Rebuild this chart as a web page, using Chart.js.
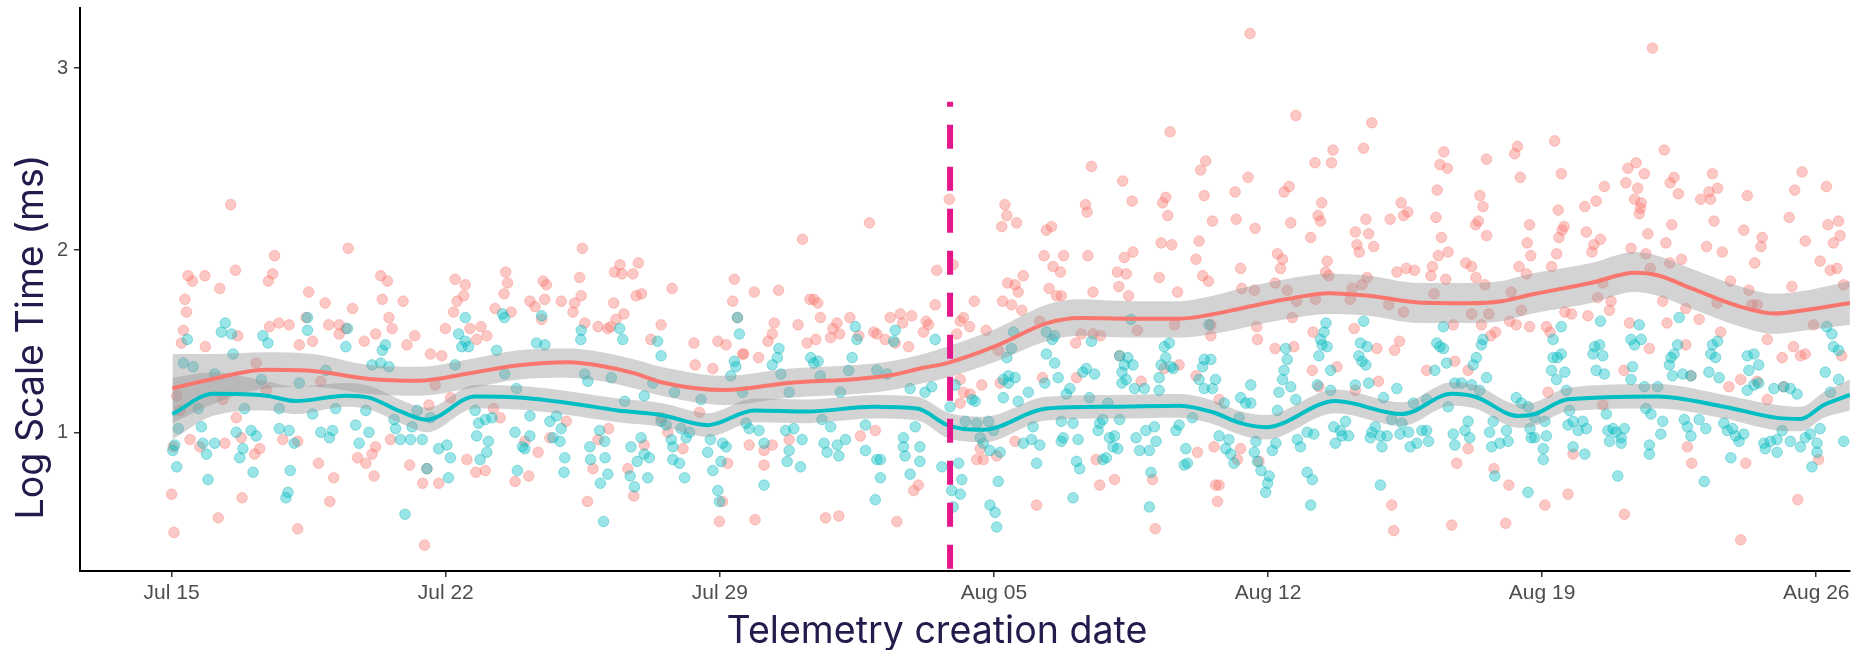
<!DOCTYPE html>
<html>
<head>
<meta charset="utf-8">
<script src="https://cdn.jsdelivr.net/npm/chart.js@4.4.1/dist/chart.umd.min.js"></script>
<style>
  html, body { margin: 0; padding: 0; background: #fff; }
  canvas { display: block; }
</style>
</head>
<body>
<canvas id="telemetryChart" width="1856" height="650"></canvas>
<script>
// ======= data (days since Jul 15, log scale time) =======
const xTickDays = [0, 7, 14, 21, 28, 35, 42];
const xTickLabels = ["Jul 15", "Jul 22", "Jul 29", "Aug 05", "Aug 12", "Aug 19", "Aug 26"];
const yTicks = [1, 2, 3];

const xTitle = "Telemetry creation date";
const yTitle = "Log Scale Time (ms)";

// release marker (dashed line)
const releaseDay = 19.88;
const releaseTop = 2.815;

// red group points [day, value]
const redPts = [
  [1.51,2.25],[2.63,1.97],[2.58,1.87],[2.47,1.83],[1.63,1.89],[0.42,1.86],[0.53,1.83],[0.85,1.86],[1.23,1.79],
  [0.34,1.73],[0.38,1.66],[0.30,1.56],[0.25,1.49],[0.86,1.47],[4.51,2.01],[3.50,1.77],[3.92,1.71],[4.62,1.68],
  [4.01,1.59],[2.74,1.60],[2.50,1.58],[3.00,1.59],[3.43,1.63],[4.28,1.59],[4.45,1.57],[4.28,1.54],[1.69,1.53],
  [4.92,1.50],[3.26,1.48],[3.60,1.50],[5.21,1.54],[2.16,1.38],[3.81,1.28],[2.42,1.23],[1.31,1.18],[1.65,1.08],
  [1.78,0.97],[0.47,0.96],[0.72,0.92],[1.36,0.94],[2.25,0.91],[2.12,0.88],[2.84,0.96],[0.04,0.92],[0.00,0.66],
  [0.06,0.45],[1.19,0.53],[1.80,0.64],[3.22,0.47],[3.75,0.83],[4.14,0.75],[4.04,0.62],[4.75,0.86],[4.96,0.83],
  [5.17,0.76],[0.13,1.20],[0.21,1.12],[3.22,0.95],
  [5.34,1.86],[5.51,1.83],[5.38,1.73],[5.91,1.72],[5.55,1.63],[5.63,1.57],[6.21,1.53],[6.01,1.48],[6.61,1.43],
  [6.90,1.42],[6.99,1.57],[7.24,1.84],[7.50,1.81],[7.46,1.75],[7.29,1.72],[7.20,1.66],[7.62,1.57],[7.90,1.58],
  [7.79,1.51],[8.05,1.53],[8.26,1.68],[8.53,1.88],[8.58,1.82],[8.49,1.76],[8.67,1.66],[9.15,1.72],[9.28,1.69],
  [9.45,1.62],[9.49,1.83],[9.57,1.81],[9.53,1.73],[9.95,1.72],[10.42,1.85],[10.49,2.01],[10.46,1.75],[10.29,1.71],
  [10.25,1.66],[10.55,1.60],[10.89,1.58],[11.14,1.57],[11.29,1.71],[11.31,1.88],[11.45,1.92],[11.50,1.87],
  [11.78,1.87],[11.92,1.93],[11.86,1.75],[12.00,1.76],[11.55,1.65],[11.35,1.62],[11.21,1.58],[12.50,1.59],
  [12.24,1.51],[5.21,0.92],[5.12,0.88],[5.59,0.96],[6.08,0.82],[6.41,0.72],[6.52,0.80],[6.82,0.72],[6.46,0.38],
  [7.54,0.85],[7.77,0.78],[8.01,0.79],[8.22,1.13],[8.39,1.08],[8.77,0.73],[9.12,0.76],[9.36,0.89],[9.02,0.95],
  [9.66,0.97],[10.08,1.06],[10.62,0.62],[10.76,0.80],[10.89,0.96],[11.16,1.02],[11.65,0.80],[11.80,0.65],
  [12.07,0.93],[6.57,1.15],[7.12,1.19],[6.73,1.26],
  [19.86,2.28],[17.82,2.15],[16.11,2.06],[12.78,1.79],[14.37,1.84],[14.33,1.72],[14.88,1.77],[15.50,1.78],
  [16.30,1.73],[16.40,1.73],[16.50,1.71],[19.54,1.89],[19.50,1.70],[13.34,1.49],[13.95,1.50],[14.16,1.48],
  [14.45,1.63],[14.61,1.43],[14.99,1.41],[15.23,1.50],[15.34,1.54],[15.39,1.60],[16.00,1.59],[16.45,1.51],
  [16.23,1.49],[16.57,1.63],[16.89,1.57],[16.99,1.60],[17.06,1.54],[16.83,1.52],[17.32,1.63],[17.55,1.53],
  [17.93,1.55],[18.01,1.54],[18.35,1.63],[18.61,1.65],[18.67,1.60],[18.90,1.64],[18.22,1.51],[18.48,1.49],
  [18.82,1.47],[19.20,1.55],[19.33,1.59],[19.27,1.61],[13.37,1.37],[13.82,1.35],[14.58,1.43],[19.96,1.92],
  [12.50,1.08],[12.67,1.00],[13.06,0.91],[14.20,0.83],[14.07,0.62],[13.99,0.51],[14.75,0.93],[15.13,0.90],
  [15.34,0.93],[15.13,0.82],[14.90,0.52],[15.77,0.96],[16.70,0.53],[17.04,0.54],[17.59,0.98],[17.97,1.01],
  [18.52,0.51],[18.95,0.68],[19.07,0.71],[13.48,1.11],
  [23.49,2.46],[25.50,2.65],[26.41,2.49],[26.28,2.44],[24.29,2.38],[24.53,2.27],[25.39,2.29],[25.31,2.26],
  [25.44,2.19],[26.37,2.30],[27.16,2.32],[27.19,2.17],[26.58,2.16],[23.34,2.25],[23.38,2.21],[21.28,2.25],
  [21.33,2.19],[21.58,2.15],[21.20,2.13],[22.34,2.11],[22.47,2.13],[25.27,2.04],[25.54,2.03],[26.24,2.05],
  [24.55,1.99],[24.33,1.96],[23.40,1.97],[22.28,1.97],[22.78,1.97],[22.51,1.91],[22.70,1.88],[21.75,1.86],
  [21.35,1.82],[21.54,1.81],[21.62,1.77],[26.16,1.95],[26.33,1.86],[26.48,1.83],[27.30,1.90],[27.33,1.79],
  [24.15,1.88],[24.38,1.87],[24.19,1.80],[25.22,1.85],[25.69,1.77],[23.53,1.77],[22.60,1.75],[22.72,1.75],
  [22.41,1.79],[24.44,1.75],[20.50,1.72],[21.22,1.72],[21.45,1.70],[21.71,1.67],[20.22,1.63],[20.14,1.61],
  [20.38,1.58],[20.05,1.54],[20.80,1.56],[22.17,1.61],[26.54,1.59],[25.61,1.59],[26.54,1.53],[24.66,1.56],
  [23.23,1.54],[23.53,1.54],[23.72,1.53],[23.09,1.49],[21.11,1.45],[24.21,1.42],[25.35,1.35],[25.73,1.37],
  [23.11,1.30],[22.24,1.30],[21.16,1.27],[20.69,1.26],[20.14,1.29],[20.22,1.22],[20.39,1.21],[20.14,1.16],
  [24.76,1.28],[26.16,1.31],[26.75,1.18],[20.65,0.91],[20.56,0.85],[20.73,0.85],[21.07,0.87],[21.54,0.95],
  [22.09,0.60],[23.61,0.85],[23.70,0.71],[24.08,0.74],[25.05,0.74],[25.12,0.47],[26.20,0.89],[26.62,0.92],
  [26.66,0.71],[26.75,0.71],[26.71,0.62],[27.22,0.85],[27.30,0.91],
  [27.54,3.19],[28.71,2.74],[30.65,2.70],[30.44,2.56],[29.66,2.55],[29.20,2.48],[29.62,2.48],[27.49,2.40],
  [28.41,2.32],[28.54,2.35],[29.37,2.26],[29.28,2.19],[29.34,2.16],[28.58,2.15],[27.67,2.12],[29.09,2.07],
  [30.23,2.10],[30.57,2.09],[30.50,2.17],[30.27,2.03],[30.33,1.99],[30.70,2.02],[31.12,2.17],[31.40,2.26],
  [31.57,2.21],[31.46,2.19],[32.29,2.18],[32.32,2.33],[32.49,2.54],[32.39,2.47],[32.58,2.45],[32.43,2.07],
  [32.60,1.99],[32.35,1.97],[33.58,2.50],[33.41,2.30],[33.49,2.24],[33.30,2.14],[33.37,2.16],[33.58,2.08],
  [34.30,2.53],[34.37,2.57],[34.44,2.40],[34.68,2.14],[34.62,2.04],[34.71,1.97],[34.41,1.91],[34.60,1.87],
  [28.24,1.98],[28.37,1.95],[28.32,1.90],[28.18,1.82],[27.65,1.78],[29.51,1.94],[29.47,1.88],[29.55,1.86],
  [30.53,1.85],[30.40,1.81],[31.29,1.88],[31.53,1.90],[31.74,1.89],[32.16,1.86],[32.20,1.91],[32.54,1.84],
  [33.05,1.93],[33.20,1.91],[33.31,1.85],[33.54,1.81],[28.49,1.78],[30.15,1.79],[28.73,1.72],[29.21,1.73],
  [30.10,1.73],[31.08,1.70],[31.46,1.66],[32.24,1.76],[33.20,1.65],[33.64,1.65],[34.21,1.77],[34.47,1.67],
  [34.68,1.58],[27.71,1.58],[27.73,1.51],[28.62,1.63],[29.15,1.55],[30.20,1.57],[30.78,1.46],[31.23,1.45],
  [31.36,1.50],[28.18,1.46],[28.66,1.47],[32.73,1.59],[33.45,1.59],[33.69,1.53],[33.81,1.55],[34.17,1.61],
  [34.34,1.59],[29.13,1.34],[29.76,1.36],[30.82,1.28],[32.05,1.34],[32.77,1.39],[33.11,1.34],[27.77,0.84],
  [31.16,0.60],[31.21,0.46],[32.82,0.83],[32.69,0.49],[33.11,0.91],[33.77,0.80],[34.15,0.71],[34.07,0.50],
  [30.23,1.23],[29.30,1.25],
  [37.82,3.11],[35.32,2.60],[38.12,2.55],[35.49,2.42],[37.19,2.45],[37.40,2.48],[37.61,2.42],[38.27,2.37],
  [38.37,2.40],[37.14,2.37],[37.44,2.34],[36.59,2.35],[38.48,2.31],[39.35,2.42],[39.48,2.34],[39.26,2.32],
  [39.05,2.28],[39.30,2.28],[40.24,2.30],[41.45,2.33],[41.64,2.43],[42.26,2.35],[37.36,2.28],[37.53,2.26],
  [37.51,2.23],[37.48,2.20],[36.38,2.27],[36.09,2.24],[35.41,2.22],[39.39,2.16],[38.31,2.14],[35.56,2.13],
  [35.51,2.11],[37.70,2.09],[36.13,2.10],[36.49,2.06],[36.32,2.03],[36.27,1.99],[35.43,2.07],[35.37,1.98],
  [37.27,2.01],[37.65,1.98],[38.16,2.04],[39.20,2.02],[39.60,1.99],[40.15,2.11],[40.62,2.07],[40.59,2.02],
  [41.31,2.18],[41.72,2.05],[42.30,2.14],[42.57,2.16],[42.61,2.08],[42.44,2.04],[40.43,1.93],[38.26,1.93],
  [38.56,1.95],[35.24,1.91],[36.55,1.82],[37.76,1.90],[39.81,1.83],[42.10,1.94],[42.36,1.89],[42.53,1.90],
  [41.38,1.80],[42.70,1.81],[36.42,1.74],[36.76,1.72],[38.08,1.72],[38.67,1.68],[39.47,1.71],[40.36,1.70],
  [40.49,1.70],[40.28,1.78],[36.72,1.67],[35.58,1.66],[35.75,1.65],[36.17,1.64],[35.11,1.58],[35.20,1.55],
  [37.23,1.60],[38.19,1.60],[39.01,1.62],[39.56,1.55],[40.75,1.51],[41.93,1.59],[41.13,1.41],[41.42,1.47],
  [41.60,1.42],[41.72,1.43],[42.65,1.42],[37.74,1.46],[38.67,1.48],[37.09,1.34],[38.80,1.31],[40.07,1.29],
  [39.77,1.25],[40.49,1.28],[41.17,1.25],[40.75,1.18],[35.15,1.22],[36.55,1.15],[38.71,0.92],[38.82,0.83],
  [40.20,0.83],[35.79,0.88],[35.66,0.66],[35.07,0.60],[37.10,0.55],[40.07,0.41],[41.53,0.63],[42.06,0.85]
];

// teal group points [day, value]
const tealPts = [
  [1.37,1.60],[0.40,1.51],[1.27,1.55],[1.53,1.54],[1.57,1.43],[2.33,1.53],[2.46,1.49],[3.47,1.63],[3.47,1.56],
  [4.45,1.47],[4.49,1.57],[0.30,1.38],[0.55,1.36],[1.10,1.32],[2.29,1.29],[3.26,1.27],[3.94,1.34],[0.17,1.02],
  [0.08,0.93],[0.03,0.90],[0.13,0.81],[0.68,1.13],[0.76,1.03],[0.80,0.94],[0.89,0.88],[1.10,0.94],[0.93,0.74],
  [1.65,1.00],[1.82,0.91],[1.74,0.86],[2.03,1.01],[2.16,0.98],[2.08,0.78],[2.75,1.02],[3.00,1.01],[3.13,0.94],
  [3.03,0.79],[2.97,0.67],[2.92,0.64],[3.81,1.00],[4.03,0.97],[4.11,1.01],[3.60,1.10],[4.70,1.04],[4.79,0.94],
  [5.04,1.00],[4.96,1.12],[1.86,1.13],[2.75,1.13],[4.19,1.13],
  [7.50,1.63],[7.33,1.54],[7.50,1.50],[7.41,1.47],[7.58,1.47],[8.45,1.65],[8.50,1.63],[9.45,1.64],[5.46,1.48],
  [5.38,1.45],[10.46,1.56],[10.45,1.51],[11.44,1.57],[11.52,1.51],[12.41,1.50],[12.50,1.42],[9.32,1.49],
  [9.53,1.48],[8.30,1.45],[5.34,1.38],[5.55,1.36],[5.12,1.37],[7.24,1.37],[8.51,1.32],[8.81,1.24],[10.55,1.32],
  [10.63,1.28],[11.23,1.30],[12.07,1.20],[12.29,1.27],[5.68,1.07],[5.72,1.02],[5.84,0.96],[6.10,0.96],
  [6.40,0.96],[6.14,1.03],[6.27,1.12],[6.61,1.08],[6.82,0.91],[7.03,0.93],[7.12,0.86],[7.07,0.75],[6.52,0.80],
  [5.96,0.55],[7.75,1.12],[7.84,1.05],[8.01,1.07],[8.18,1.08],[7.79,0.98],[8.09,0.95],[8.05,0.89],[7.88,0.85],
  [8.77,1.00],[8.96,0.92],[9.15,0.98],[9.02,0.91],[8.83,0.79],[9.15,1.09],[9.66,1.06],[9.83,1.09],[9.95,1.02],
  [9.74,0.97],[9.92,0.95],[10.04,0.86],[10.02,0.78],[10.68,0.92],[10.93,1.01],[11.06,0.95],[10.70,0.85],
  [11.07,0.86],[11.14,0.77],[10.95,0.72],[11.03,0.51],[11.73,0.92],[11.99,0.97],[11.89,0.84],[11.82,0.70],
  [11.71,0.76],[12.16,0.75],[12.07,0.88],[12.20,0.86],[12.50,1.06],[11.57,1.17],
  [14.45,1.63],[14.50,1.54],[14.37,1.39],[14.41,1.36],[15.51,1.46],[15.47,1.41],[15.34,1.37],[16.32,1.41],
  [16.40,1.38],[16.51,1.39],[17.46,1.58],[17.50,1.51],[17.38,1.41],[18.48,1.56],[18.44,1.50],[19.50,1.51],
  [17.29,1.34],[18.01,1.34],[18.27,1.32],[12.84,1.22],[13.52,1.18],[14.28,1.31],[14.58,1.22],[15.56,1.32],
  [15.77,1.22],[16.57,1.31],[17.08,1.22],[19.24,1.22],[19.41,1.25],[18.86,1.24],[12.76,0.96],[12.80,0.92],
  [12.63,1.04],[13.23,1.00],[13.14,0.97],[13.01,1.02],[12.80,0.85],[13.10,0.75],[12.97,0.83],[13.69,0.89],
  [13.76,0.96],[13.82,0.79],[14.03,0.84],[14.07,0.94],[14.16,0.92],[13.95,0.68],[13.99,0.62],[14.75,1.02],
  [15.00,1.01],[15.13,0.94],[15.13,0.71],[14.67,1.05],[15.68,1.01],[15.89,1.02],[15.77,0.90],[15.72,0.84],
  [16.06,0.81],[16.10,0.96],[16.66,0.94],[16.83,1.03],[16.74,0.89],[17.00,0.93],[17.21,0.96],[17.04,0.87],
  [16.61,1.07],[17.72,1.04],[17.72,0.90],[18.01,0.85],[18.10,0.85],[18.10,0.75],[17.97,0.63],[18.69,0.97],
  [18.69,0.92],[18.73,0.87],[18.86,0.77],[19.11,0.92],[19.11,0.84],[18.99,1.03],[19.67,0.81],[19.88,1.14],
  [19.92,0.68],[19.96,0.59],
  [24.50,1.62],[26.49,1.59],[22.34,1.55],[22.49,1.51],[22.55,1.53],[23.49,1.50],[21.50,1.55],[21.45,1.46],
  [21.33,1.41],[22.34,1.43],[22.55,1.38],[24.42,1.41],[24.33,1.37],[24.55,1.37],[24.21,1.42],[25.35,1.47],
  [25.48,1.49],[25.39,1.41],[25.52,1.36],[25.27,1.37],[25.58,1.35],[26.37,1.40],[26.54,1.40],[26.33,1.36],
  [23.27,1.33],[23.36,1.35],[23.57,1.32],[24.27,1.33],[21.37,1.31],[21.54,1.30],[21.24,1.29],[21.37,1.27],
  [22.30,1.27],[22.64,1.30],[24.27,1.27],[24.38,1.29],[24.59,1.24],[24.84,1.24],[25.22,1.30],[25.22,1.23],
  [26.24,1.29],[26.37,1.24],[26.58,1.24],[26.66,1.29],[21.62,1.17],[21.88,1.22],[21.24,1.19],[22.94,1.24],
  [22.85,1.21],[23.44,1.19],[23.91,1.16],[20.44,1.18],[20.52,1.17],[20.01,1.26],[26.88,1.16],[27.30,1.19],
  [20.27,1.06],[20.56,1.05],[20.86,1.06],[20.65,0.97],[20.73,0.94],[20.90,0.90],[21.16,0.89],[20.99,1.01],
  [21.75,0.94],[21.96,0.96],[22.17,0.93],[22.00,1.03],[22.72,1.06],[22.77,0.97],[22.72,0.95],[23.02,1.05],
  [23.15,0.96],[23.11,0.84],[23.19,0.80],[23.70,1.05],[23.78,1.07],[23.66,1.01],[23.95,0.97],[24.08,0.98],
  [23.78,0.85],[23.87,0.86],[24.04,0.92],[24.16,0.91],[24.72,0.90],[24.97,0.90],[24.88,1.01],[25.10,1.03],
  [25.14,0.95],[24.63,0.97],[24.21,1.07],[25.65,1.01],[25.73,1.04],[25.90,0.91],[25.86,0.82],[25.94,0.83],
  [26.07,1.08],[26.75,0.98],[26.92,0.91],[27.00,0.96],[27.05,0.88],[27.13,0.83],[20.10,0.83],[20.18,0.74],
  [20.14,0.66],[20.90,0.60],[21.03,0.56],[21.07,0.48],[21.11,0.73],[22.09,0.83],[23.02,0.64],[25.01,0.78],
  [24.97,0.59],
  [29.48,1.60],[30.44,1.61],[32.48,1.58],[29.43,1.55],[29.34,1.51],[29.38,1.48],[29.51,1.47],[29.30,1.42],
  [30.36,1.49],[30.53,1.47],[30.32,1.42],[30.40,1.39],[30.50,1.37],[28.45,1.46],[28.49,1.40],[28.41,1.34],
  [28.37,1.29],[28.58,1.25],[28.28,1.22],[32.31,1.49],[32.39,1.47],[32.48,1.46],[32.56,1.38],[32.26,1.34],
  [33.49,1.51],[33.45,1.48],[33.32,1.41],[33.24,1.37],[33.58,1.30],[29.60,1.34],[29.26,1.26],[29.60,1.23],
  [30.23,1.26],[30.57,1.27],[31.29,1.24],[27.56,1.26],[27.43,1.16],[27.56,1.16],[28.24,1.12],[28.71,1.18],
  [32.77,1.27],[32.94,1.27],[33.20,1.26],[33.41,1.23],[34.34,1.19],[34.47,1.16],[30.95,1.19],[31.71,1.16],
  [32.05,1.18],[32.60,1.14],[33.11,1.06],[27.26,1.08],[27.69,0.95],[27.65,0.89],[27.73,0.84],[27.82,0.79],
  [28.03,0.76],[27.99,0.72],[27.94,0.67],[28.11,0.90],[28.20,0.94],[28.75,0.96],[28.83,0.92],[29.00,1.00],
  [29.17,0.99],[29.00,0.78],[29.13,0.74],[29.09,0.60],[29.68,1.03],[29.72,0.94],[29.89,0.98],[30.06,0.98],
  [29.98,1.06],[29.85,1.01],[30.65,1.00],[30.61,0.97],[30.74,1.03],[30.87,0.98],[31.04,0.98],[30.91,0.92],
  [31.16,1.07],[31.37,0.99],[31.42,1.05],[31.63,0.92],[31.80,0.94],[31.93,1.01],[32.05,1.01],[32.10,0.95],
  [31.59,1.00],[30.87,0.71],[32.73,0.99],[32.77,0.93],[33.03,1.01],[33.15,0.97],[33.66,1.00],[33.71,0.92],
  [33.92,0.94],[34.13,0.95],[34.09,1.01],[33.79,0.76],[34.64,0.67],[34.72,0.97],[33.75,1.06],
  [38.50,1.63],[36.49,1.61],[37.48,1.59],[37.27,1.51],[37.53,1.51],[37.36,1.48],[35.49,1.58],[35.28,1.51],
  [35.49,1.43],[35.39,1.41],[35.28,1.41],[36.34,1.47],[36.47,1.48],[36.30,1.43],[36.55,1.42],[35.24,1.34],
  [35.58,1.33],[35.37,1.29],[36.38,1.34],[36.59,1.32],[37.31,1.36],[37.27,1.29],[38.25,1.37],[38.37,1.43],
  [38.46,1.48],[38.29,1.41],[38.33,1.31],[38.59,1.32],[38.80,1.31],[39.26,1.33],[39.35,1.48],[39.48,1.50],
  [39.31,1.43],[39.43,1.41],[39.52,1.30],[40.24,1.42],[40.41,1.43],[40.53,1.37],[40.28,1.34],[40.41,1.26],
  [40.53,1.27],[40.24,1.23],[42.27,1.58],[42.40,1.54],[42.44,1.47],[42.57,1.45],[42.23,1.33],[42.57,1.29],
  [42.36,1.22],[40.92,1.24],[41.17,1.25],[41.34,1.24],[41.51,1.21],[37.61,1.25],[37.95,1.25],[35.62,1.23],
  [34.64,1.14],[34.81,1.08],[34.69,1.02],[35.07,1.06],[35.11,0.98],[34.81,0.97],[35.03,0.91],[35.03,0.85],
  [35.70,1.12],[35.79,1.06],[35.66,1.04],[35.92,1.01],[36.04,1.06],[36.13,1.02],[35.79,0.92],[36.09,0.88],
  [36.64,1.10],[36.68,1.01],[36.81,1.02],[36.89,1.00],[37.02,0.97],[37.10,1.02],[36.72,0.95],[37.02,0.94],
  [36.93,0.76],[37.65,1.13],[37.78,1.10],[38.03,0.99],[38.08,1.06],[37.74,0.93],[37.74,0.88],[38.63,1.07],
  [38.71,1.03],[39.01,1.07],[39.18,1.02],[38.80,0.98],[39.14,0.73],[39.64,1.05],[39.86,1.02],[39.73,1.01],
  [39.94,0.98],[40.03,0.95],[40.15,0.99],[39.82,0.86],[40.66,0.94],[40.70,0.91],[40.83,0.95],[41.00,0.96],
  [41.00,0.89],[41.13,1.01],[41.34,0.95],[41.60,0.92],[41.72,0.97],[41.85,0.99],[41.89,0.81],[42.02,0.94],
  [42.02,0.89],[42.10,1.02],[42.70,0.95]
];

// smoothed fits + confidence band
const redFitDays = [0.02,1.0,2.41,3.6,5.04,6.31,7.58,8.86,10.13,10.98,11.83,12.5,14.12,15.81,17.51,18.36,19.2,19.8,
  21.07,22.34,23.19,24.47,25.74,26.59,27.3,28.45,29.56,30.57,31.85,33.12,33.97,34.7,36.26,37.36,37.95,38.8,40.07,40.92,41.77,42.86];
const redFit = [1.242,1.29,1.343,1.337,1.293,1.283,1.323,1.368,1.384,1.364,1.323,1.275,1.232,1.272,1.293,1.313,1.354,1.38,
  1.476,1.598,1.628,1.624,1.624,1.648,1.68,1.73,1.764,1.75,1.713,1.709,1.72,1.755,1.821,1.876,1.862,1.791,1.689,1.652,1.673,1.71];
const redLo = [1.05,1.15,1.24,1.25,1.21,1.20,1.24,1.29,1.30,1.28,1.24,1.20,1.15,1.19,1.21,1.23,1.27,1.30,
  1.39,1.50,1.53,1.52,1.52,1.54,1.57,1.62,1.65,1.64,1.60,1.60,1.61,1.65,1.71,1.77,1.75,1.68,1.58,1.54,1.56,1.59];
const redHi = [1.43,1.43,1.44,1.43,1.37,1.36,1.40,1.45,1.46,1.44,1.40,1.36,1.31,1.35,1.37,1.39,1.43,1.47,
  1.57,1.70,1.73,1.72,1.72,1.75,1.79,1.84,1.87,1.86,1.82,1.82,1.83,1.87,1.93,1.99,1.97,1.90,1.80,1.76,1.78,1.83];

const tealFitDays = [0.02,1.06,2.41,3.18,4.45,5.04,5.89,6.52,7.75,8.86,10.13,11.4,12.5,13.69,14.88,16.24,17.93,19.04,19.8,
  20.22,20.73,22.34,24.04,25.74,26.59,27.3,27.94,29.72,31.42,32.69,33.29,34.39,34.81,35.66,37.95,39.65,41.0,41.6,42.19,42.86];
const tealFit = [1.10,1.211,1.201,1.171,1.201,1.19,1.11,1.069,1.197,1.191,1.161,1.12,1.095,1.039,1.12,1.114,1.14,1.13,1.04,
  1.018,1.014,1.13,1.14,1.146,1.11,1.05,1.028,1.171,1.10,1.211,1.195,1.089,1.10,1.181,1.197,1.14,1.079,1.073,1.15,1.205];
const tealLo = [0.96,1.09,1.12,1.10,1.14,1.125,1.045,1.0,1.13,1.125,1.095,1.055,1.03,0.975,1.055,1.05,1.075,1.065,0.97,
  0.95,0.945,1.065,1.075,1.08,1.045,0.985,0.96,1.105,1.035,1.145,1.13,1.025,1.035,1.115,1.13,1.075,1.01,1.005,1.08,1.12];
const tealHi = [1.30,1.33,1.28,1.25,1.27,1.255,1.175,1.135,1.26,1.255,1.225,1.185,1.16,1.105,1.185,1.18,1.205,1.195,1.11,
  1.09,1.085,1.195,1.205,1.21,1.175,1.115,1.095,1.235,1.165,1.275,1.26,1.155,1.165,1.245,1.265,1.205,1.15,1.14,1.22,1.29];

// axis range
const xMin = -2.34, xMax = 42.86;
const yMin = 0.238, yMax = 3.33;

// colours
const RED = "#F8766D";
const TEAL = "#00BFC4";
const TITLE_COLOR = "#241a4c";

// helpers
const toXY = (pts) => pts.map(p => ({ x: p[0], y: p[1] }));
const zipXY = (xs, ys) => xs.map((x, i) => ({ x: x, y: ys[i] }));

// axis titles (drawn by hand so they sit where the original puts them)
const axisTitlePlugin = {
    id: "axisTitlePlugin",
    afterDraw(chart) {
        const { ctx } = chart;
        ctx.save();
        ctx.fillStyle = TITLE_COLOR;
        ctx.font = "37.6px Inter";
        ctx.textAlign = "center";
        ctx.textBaseline = "alphabetic";
        ctx.fillText(xTitle, 937, 643);
        ctx.translate(43, 337);
        ctx.rotate(-Math.PI / 2);
        ctx.fillText(yTitle, 0, 0);
        ctx.restore();
    }
};

const fitLine = (color, xs, ys) => ({
    data: zipXY(xs, ys),
    showLine: true,
    borderColor: color,
    borderWidth: 4,
    pointRadius: 0,
    tension: 0.4,
    cubicInterpolationMode: "monotone",
    fill: false,
    order: 1
});

const bandEdge = (xs, ys, fill) => ({
    data: zipXY(xs, ys),
    showLine: true,
    borderWidth: 0,
    borderColor: "rgba(0,0,0,0)",
    backgroundColor: "rgba(150,150,150,0.42)",
    pointRadius: 0,
    cubicInterpolationMode: "monotone",
    fill: fill,
    order: 2
});

// keep tick-label overhang from pushing the plot area around
const noScalePadding = (s) => { s.paddingTop = 0; s.paddingBottom = 0; };

new Chart(document.getElementById("telemetryChart"), {
    type: "scatter",
    data: {
        datasets: [
            fitLine(RED, redFitDays, redFit),
            fitLine(TEAL, tealFitDays, tealFit),
            {
                data: [{ x: releaseDay, y: releaseTop }, { x: releaseDay, y: yMin }],
                showLine: true,
                borderColor: "#e5168a",
                borderWidth: 6,
                borderDash: [24, 18],
                borderDashOffset: 19,
                pointRadius: 0,
                order: 0
            },
            bandEdge(redFitDays, redHi, "+1"),
            bandEdge(redFitDays, redLo, false),
            bandEdge(tealFitDays, tealHi, "+1"),
            bandEdge(tealFitDays, tealLo, false),
            {
                data: toXY(redPts),
                pointRadius: 5.3,
                pointBackgroundColor: "rgba(248,118,109,0.4)",
                pointBorderColor: "rgba(248,118,109,0.45)",
                pointBorderWidth: 0.8,
                order: 4
            },
            {
                data: toXY(tealPts),
                pointRadius: 5.3,
                pointBackgroundColor: "rgba(0,191,196,0.4)",
                pointBorderColor: "rgba(0,170,176,0.45)",
                pointBorderWidth: 0.8,
                order: 3
            }
        ]
    },
    options: {
        responsive: false,
        animation: false,
        events: [],
        layout: { padding: { top: 8, right: 0, bottom: 0, left: 0 } },
        plugins: {
            legend: { display: false },
            tooltip: { enabled: false }
        },
        scales: {
            x: {
                type: "linear",
                min: xMin,
                max: xMax,
                afterBuildTicks: (s) => { s.ticks = xTickDays.map(v => ({ value: v })); },
                afterFit: (s) => { s.height = 79; },
                grid: { display: true, drawOnChartArea: false, drawTicks: true, tickLength: 6, color: "#333", lineWidth: 1.5 },
                border: { display: true, color: "#000", width: 2 },
                ticks: {
                    callback: (v) => xTickLabels[xTickDays.indexOf(v)],
                    font: { family: "Liberation Sans", size: 21 },
                    color: "#4d4d4d",
                    padding: 4,
                    maxRotation: 0,
                    autoSkip: false
                }
            },
            y: {
                type: "linear",
                min: yMin,
                max: yMax,
                afterBuildTicks: (s) => { s.ticks = yTicks.map(v => ({ value: v })); },
                afterFit: (s) => { s.width = 80; noScalePadding(s); },
                grid: { display: true, drawOnChartArea: false, drawTicks: true, tickLength: 6, color: "#333", lineWidth: 1.5 },
                border: { display: true, color: "#000", width: 2 },
                ticks: {
                    font: { family: "Liberation Sans", size: 20 },
                    color: "#4d4d4d",
                    padding: 6
                }
            }
        }
    },
    plugins: [axisTitlePlugin]
});
</script>
</body>
</html>
